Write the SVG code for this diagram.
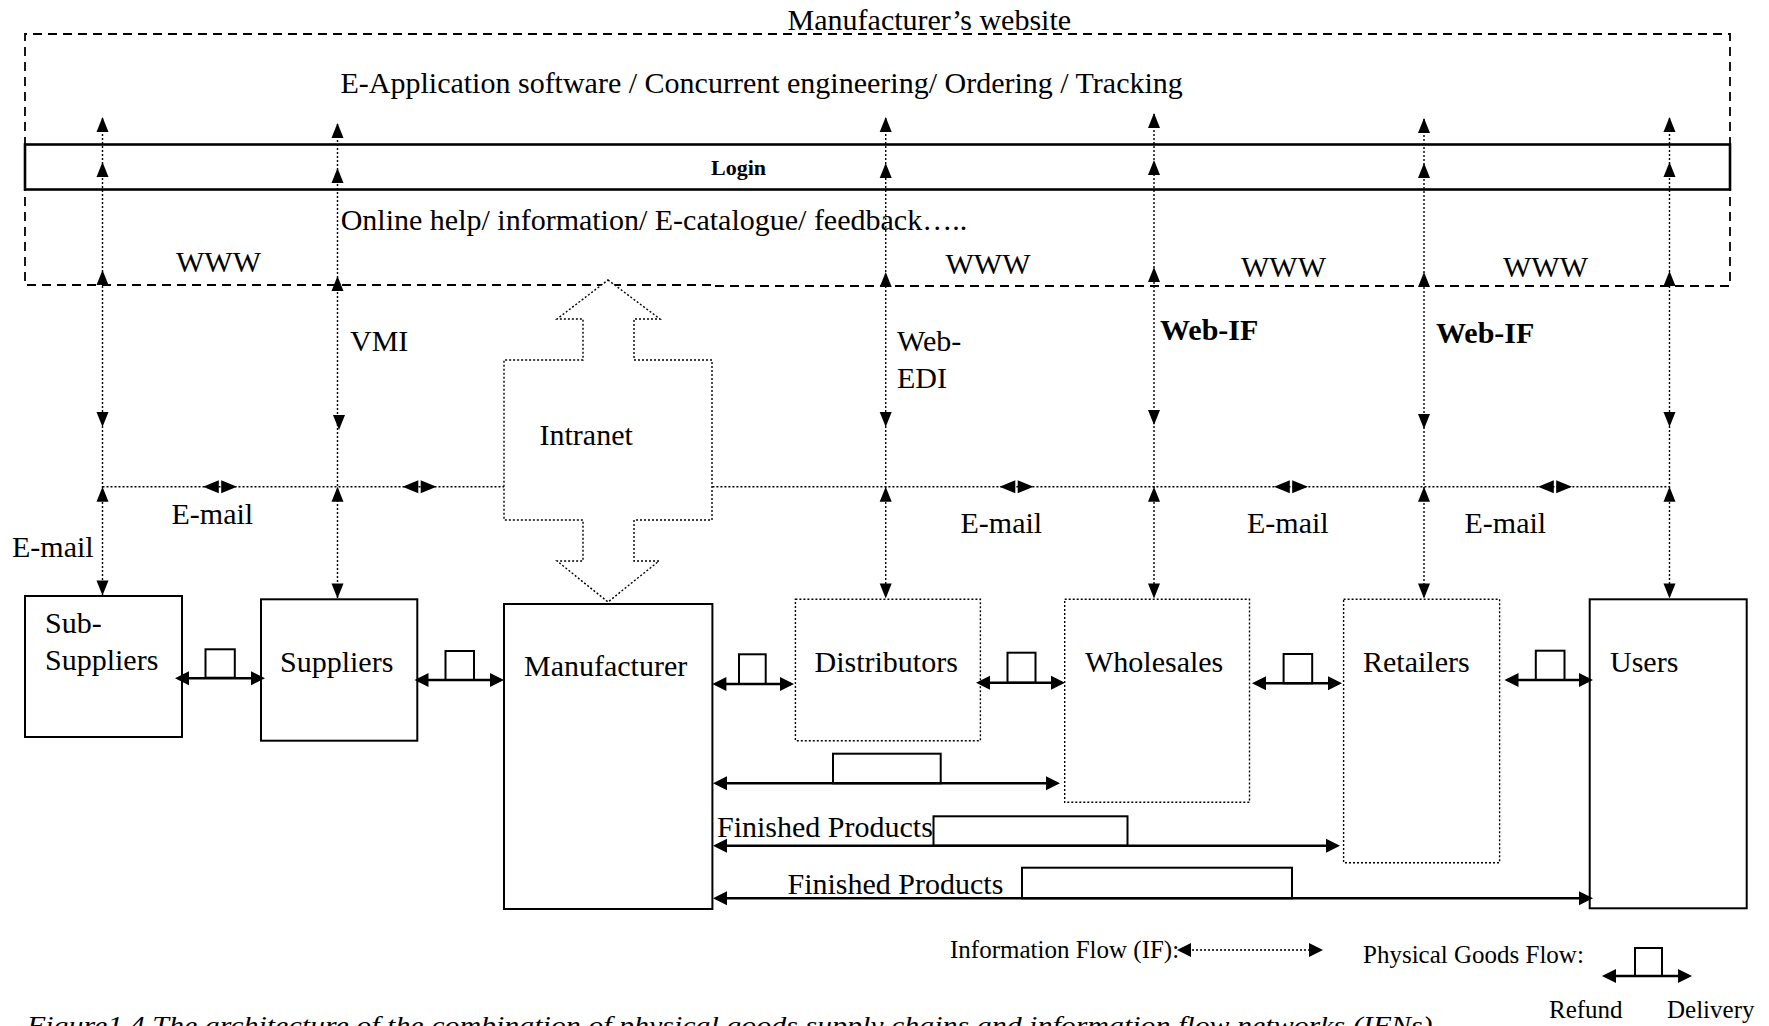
<svg xmlns="http://www.w3.org/2000/svg" width="1769" height="1026" viewBox="0 0 1769 1026">
  <style>
    text { font-family: "Liberation Serif", "Times New Roman", serif; fill: #000; }
    .lbl { font-size: 30px; }
    .bold { font-weight: bold; }
    .legend { font-size: 25px; }
    .caption { font-size: 25px; font-style: italic; }
    .portal { fill: none; stroke: #000; stroke-width: 1.8; stroke-dasharray: 9 6; }
    .loginbar { fill: none; stroke: #000; stroke-width: 2.6; }
    .solid-node { fill: #fff; stroke: #000; stroke-width: 2; }
    .dotted-node { fill: #fff; stroke: #000; stroke-width: 1.4; stroke-dasharray: 2 2; }
    .intranet { fill: #fff; stroke: #000; stroke-width: 1.4; stroke-dasharray: 2 2; }
    .info { fill: none; stroke: #000; stroke-width: 1.4; stroke-dasharray: 2 2; }
    .goods { fill: none; stroke: #000; stroke-width: 2.6; }
    .parcel { fill: #fff; stroke: #000; stroke-width: 2; }
    .head { fill: #000; }
  </style>
  <defs>
    <!-- information-flow arrowheads, tip at the origin -->
    <path id="ah-up" class="head" d="M0,0 L-6,15 L6,15 Z"/>
    <path id="ah-down" class="head" d="M0,0 L-6,-15 L6,-15 Z"/>
    <!-- goods-flow arrowheads, tip at the origin -->
    <path id="ah-left" class="head" d="M0,0 L14,-7 L14,7 Z"/>
    <path id="ah-right" class="head" d="M0,0 L-14,-7 L-14,7 Z"/>
    <!-- back-to-back pair used on the e-mail line -->
    <path id="email-mark" class="head" d="M-17,0 L-1.2,-6.5 L-1.2,6.5 Z M17,0 L1.2,-6.5 L1.2,6.5 Z"/>
  </defs>

  <rect width="1769" height="1026" fill="#fff"/>

  <!-- Manufacturer's website portal -->
  <g id="website">
    <path class="portal" d="M715,286 H1730 V34 H25 V285 H715"/>
    <rect class="loginbar" x="25" y="144.5" width="1705" height="45"/>
    <text class="lbl" x="787.6" y="30">Manufacturer’s website</text>
    <text class="lbl" x="340.5" y="93">E-Application software / Concurrent engineering/ Ordering / Tracking</text>
    <text class="bold" x="711" y="175" font-size="22">Login</text>
    <text class="lbl" x="340.7" y="229.5">Online help/ information/ E-catalogue/ feedback…..</text>
    <text class="lbl" x="176" y="272">WWW</text>
    <text class="lbl" x="945.5" y="274">WWW</text>
    <text class="lbl" x="1241" y="277">WWW</text>
    <text class="lbl" x="1503" y="277">WWW</text>
  </g>

  <!-- Intranet double arrow between portal and manufacturer -->
  <g id="intranet">
    <path class="intranet" d="M608,280 L660,319 L634,319 L634,360 L712,360 L712,520 L634,520 L634,561 L659,561 L608,602 L557,561 L583,561 L583,520 L504,520 L504,360 L583,360 L583,319 L557,319 Z"/>
    <text class="lbl" x="539.5" y="444.5">Intranet</text>
  </g>

  <!-- Supply chain members -->
  <g id="sub-suppliers">
    <rect class="solid-node" x="25" y="596" width="157" height="141"/>
    <text class="lbl" x="45" y="633">Sub-</text>
    <text class="lbl" x="45" y="669.5">Suppliers</text>
  </g>
  <g id="suppliers">
    <rect class="solid-node" x="261" y="599.3" width="156.3" height="141.4"/>
    <text class="lbl" x="280" y="672">Suppliers</text>
  </g>
  <g id="manufacturer">
    <rect class="solid-node" x="504" y="604" width="208.4" height="305"/>
    <text class="lbl" x="524" y="676">Manufacturer</text>
  </g>
  <g id="distributors">
    <rect class="dotted-node" x="795.4" y="599.3" width="185" height="141.4"/>
    <text class="lbl" x="814.5" y="672">Distributors</text>
  </g>
  <g id="wholesales">
    <rect class="dotted-node" x="1064.7" y="599.3" width="184.8" height="203"/>
    <text class="lbl" x="1085" y="672">Wholesales</text>
  </g>
  <g id="retailers">
    <rect class="dotted-node" x="1343.6" y="599.3" width="156" height="263.4"/>
    <text class="lbl" x="1363" y="672">Retailers</text>
  </g>
  <g id="users">
    <rect class="solid-node" x="1589.7" y="599.3" width="157" height="309"/>
    <text class="lbl" x="1610" y="672">Users</text>
  </g>

  <!-- Connectors -->
  <g id="connectors">
    <!-- information flow: vertical links to the portal -->
    <g id="info-links">
      <line class="info" x1="102.5" y1="118" x2="102.5" y2="595"/>
      <line class="info" x1="337.5" y1="124" x2="337.5" y2="598"/>
      <line class="info" x1="885.7" y1="118" x2="885.7" y2="598"/>
      <line class="info" x1="1154" y1="114" x2="1154" y2="598"/>
      <line class="info" x1="1424" y1="119" x2="1424" y2="598"/>
      <line class="info" x1="1669.5" y1="118" x2="1669.5" y2="598"/>

      <use href="#ah-up" x="102.5" y="117"/>
      <use href="#ah-up" x="102.5" y="162"/>
      <use href="#ah-up" x="102.5" y="270"/>
      <use href="#ah-down" x="102.5" y="427"/>
      <use href="#ah-up" x="102.5" y="486.7"/>
      <use href="#ah-down" x="102.5" y="595.5"/>

      <use href="#ah-up" x="337.5" y="123"/>
      <use href="#ah-up" x="337.5" y="168"/>
      <use href="#ah-up" x="337.5" y="276"/>
      <use href="#ah-down" x="339" y="430"/>
      <use href="#ah-up" x="337.5" y="486.7"/>
      <use href="#ah-down" x="337.5" y="598.5"/>

      <use href="#ah-up" x="885.7" y="117"/>
      <use href="#ah-up" x="885.7" y="163"/>
      <use href="#ah-up" x="885.7" y="272"/>
      <use href="#ah-down" x="885.7" y="427"/>
      <use href="#ah-up" x="885.7" y="486.7"/>
      <use href="#ah-down" x="885.7" y="598.5"/>

      <use href="#ah-up" x="1154" y="113"/>
      <use href="#ah-up" x="1154" y="160"/>
      <use href="#ah-up" x="1154" y="267"/>
      <use href="#ah-down" x="1154" y="425"/>
      <use href="#ah-up" x="1154" y="486.7"/>
      <use href="#ah-down" x="1154" y="598.5"/>

      <use href="#ah-up" x="1424" y="118"/>
      <use href="#ah-up" x="1424" y="163"/>
      <use href="#ah-up" x="1424" y="272"/>
      <use href="#ah-down" x="1424" y="429"/>
      <use href="#ah-up" x="1424" y="486.7"/>
      <use href="#ah-down" x="1424" y="598.5"/>

      <use href="#ah-up" x="1669.5" y="117"/>
      <use href="#ah-up" x="1669.5" y="162"/>
      <use href="#ah-up" x="1669.5" y="271"/>
      <use href="#ah-down" x="1669.5" y="427"/>
      <use href="#ah-up" x="1669.5" y="486.7"/>
      <use href="#ah-down" x="1669.5" y="598.5"/>
    </g>

    <!-- information flow: e-mail line between members -->
    <g id="email-line">
      <line class="info" x1="102.5" y1="486.7" x2="504" y2="486.7"/>
      <line class="info" x1="712.4" y1="486.7" x2="1669.5" y2="486.7"/>
      <use href="#email-mark" x="220" y="486.7"/>
      <use href="#email-mark" x="419.5" y="486.7"/>
      <use href="#email-mark" x="1016.5" y="486.7"/>
      <use href="#email-mark" x="1291" y="486.7"/>
      <use href="#email-mark" x="1555" y="486.7"/>
    </g>

    <!-- physical goods flow between neighbouring members -->
    <g id="goods-links">
      <rect class="parcel" x="205.5" y="649.3" width="29.3" height="28.4"/>
      <line class="goods" x1="178" y1="678.3" x2="262" y2="678.3"/>
      <use href="#ah-left" x="175" y="678.3"/>
      <use href="#ah-right" x="265" y="678.3"/>

      <rect class="parcel" x="445.5" y="651" width="28.5" height="29"/>
      <line class="goods" x1="417.5" y1="680" x2="501" y2="680"/>
      <use href="#ah-left" x="414.5" y="680"/>
      <use href="#ah-right" x="504" y="680"/>

      <rect class="parcel" x="739" y="654.3" width="26.7" height="29.7"/>
      <line class="goods" x1="715" y1="684" x2="791" y2="684"/>
      <use href="#ah-left" x="712.4" y="684"/>
      <use href="#ah-right" x="794" y="684"/>

      <rect class="parcel" x="1007.5" y="652.7" width="28" height="30"/>
      <line class="goods" x1="979" y1="682.7" x2="1062" y2="682.7"/>
      <use href="#ah-left" x="976" y="682.7"/>
      <use href="#ah-right" x="1065" y="682.7"/>

      <rect class="parcel" x="1283.6" y="654" width="28.6" height="29.3"/>
      <line class="goods" x1="1255" y1="683.3" x2="1339" y2="683.3"/>
      <use href="#ah-left" x="1252" y="683.3"/>
      <use href="#ah-right" x="1342" y="683.3"/>

      <rect class="parcel" x="1535.8" y="650.7" width="28.7" height="29.3"/>
      <line class="goods" x1="1507.5" y1="680" x2="1590" y2="680"/>
      <use href="#ah-left" x="1504.5" y="680"/>
      <use href="#ah-right" x="1593" y="680"/>
    </g>

    <!-- finished products from the manufacturer downstream -->
    <g id="finished-links">
      <rect class="parcel" x="833" y="753.7" width="107.7" height="29.6"/>
      <line class="goods" x1="716" y1="783.3" x2="1057" y2="783.3"/>
      <use href="#ah-left" x="713" y="783.3"/>
      <use href="#ah-right" x="1060" y="783.3"/>

      <rect class="parcel" x="933.5" y="816.3" width="194" height="29.4"/>
      <line class="goods" x1="716" y1="845.7" x2="1337" y2="845.7"/>
      <use href="#ah-left" x="713" y="845.7"/>
      <use href="#ah-right" x="1340" y="845.7"/>
      <text class="lbl" x="717" y="836.5">Finished Products</text>

      <rect class="parcel" x="1022" y="867.7" width="270" height="30.6"/>
      <line class="goods" x1="716" y1="898.3" x2="1590" y2="898.3"/>
      <use href="#ah-left" x="713" y="898.3"/>
      <use href="#ah-right" x="1593" y="898.3"/>
      <text class="lbl" x="787.5" y="893.5">Finished Products</text>
    </g>
  </g>

  <!-- Link labels -->
  <g id="link-labels">
    <text class="lbl" x="350" y="350.5">VMI</text>
    <text class="lbl" x="897" y="351">Web-</text>
    <text class="lbl" x="897" y="388">EDI</text>
    <text class="lbl bold" x="1160" y="340">Web-IF</text>
    <text class="lbl bold" x="1436" y="342.5">Web-IF</text>
    <text class="lbl" x="12" y="557">E-mail</text>
    <text class="lbl" x="171.5" y="523.5">E-mail</text>
    <text class="lbl" x="960.5" y="533">E-mail</text>
    <text class="lbl" x="1247" y="533">E-mail</text>
    <text class="lbl" x="1464.5" y="533">E-mail</text>
  </g>

  <!-- Legend -->
  <g id="legend">
    <text class="legend" x="950" y="958">Information Flow (IF):</text>
    <line class="info" x1="1180" y1="950" x2="1320" y2="950"/>
    <use href="#ah-left" x="1177" y="950"/>
    <use href="#ah-right" x="1323" y="950"/>
    <text class="legend" x="1363" y="963">Physical Goods Flow:</text>
    <rect class="parcel" x="1635" y="948" width="27" height="28"/>
    <line class="goods" x1="1605" y1="976" x2="1689" y2="976"/>
    <use href="#ah-left" x="1602" y="976"/>
    <use href="#ah-right" x="1692" y="976"/>
    <text class="legend" x="1549" y="1018">Refund</text>
    <text class="legend" x="1667" y="1018">Delivery</text>
  </g>

  <!-- Figure caption -->
  <text class="caption" x="27" y="1034" textLength="1413" lengthAdjust="spacingAndGlyphs">Figure1.4 The architecture of the combination of physical goods supply chains and information flow networks (IFNs).</text>
</svg>
